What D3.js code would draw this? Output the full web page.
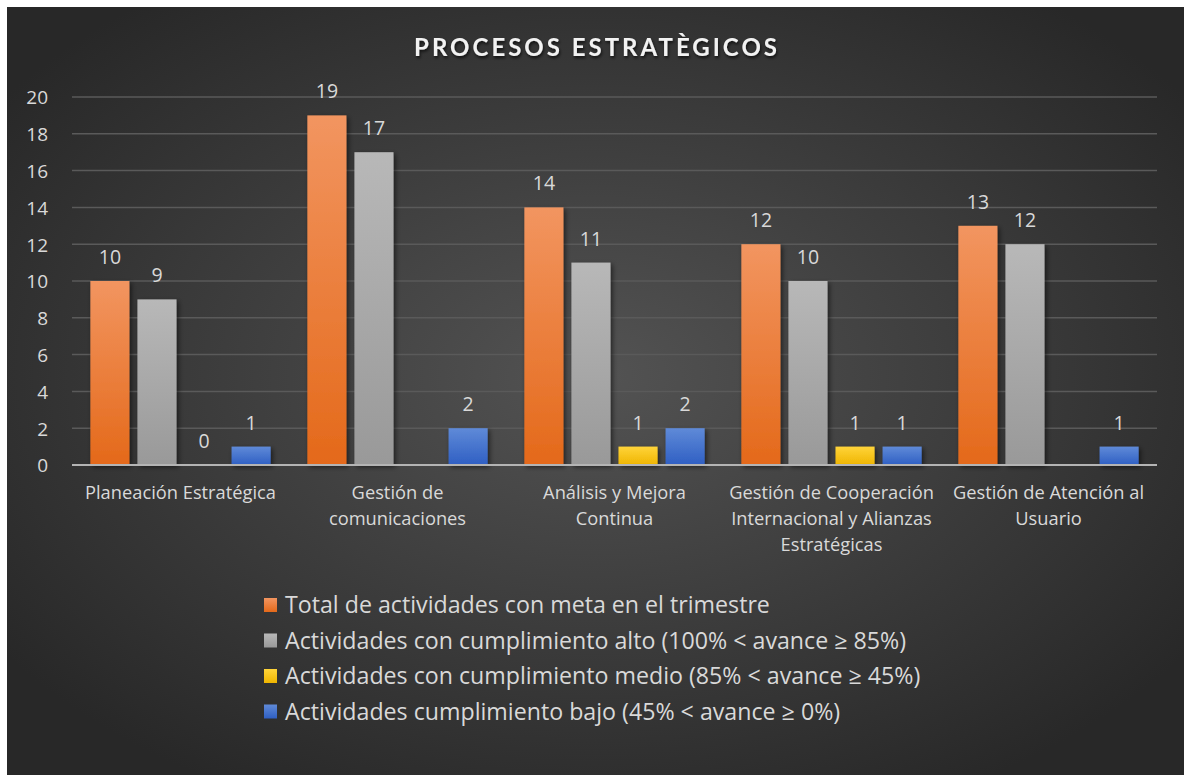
<!DOCTYPE html>
<html lang="es">
<head>
    <meta charset="UTF-8">
    <title>Procesos estratègicos</title>
    <script src="https://cdn.jsdelivr.net/npm/d3@7"></script>
    <style>
        body {
            margin: 0;
            background: #ffffff;
        }

        text {
            font-family: "Open Sans", Lato, sans-serif;
            fill: #d9d9d9;
        }

        .title {
            font-family: Lato, sans-serif;
            font-weight: bold;
            font-size: 24px;
            letter-spacing: 3px;
            fill: #f2f2f2;
        }

        .tick-label {
            font-size: 19px;
        }

        .value-label {
            font-size: 19.5px;
        }

        .cat-label {
            font-size: 18.3px;
        }

        .legend-label {
            font-size: 23.2px;
        }
    </style>
</head>
<body>
<div id="svgcontainer"></div>

<script>
    const categories = [
        ["Planeación Estratégica"],
        ["Gestión de", "comunicaciones"],
        ["Análisis y Mejora", "Continua"],
        ["Gestión de Cooperación", "Internacional y Alianzas", "Estratégicas"],
        ["Gestión de Atención al", "Usuario"]
    ];

    const seriesNames = [
        "Total de actividades con meta en el trimestre",
        "Actividades con cumplimiento alto (100% < avance ≥ 85%)",
        "Actividades con cumplimiento medio (85% < avance ≥ 45%)",
        "Actividades cumplimiento bajo (45% < avance ≥ 0%)"
    ];

    const totalValues = [10, 19, 14, 12, 13];
    const altoValues = [9, 17, 11, 10, 12];
    const medioValues = [0, null, 1, 1, null];
    const bajoValues = [1, 2, 2, 1, 1];

    const yTicks = [0, 2, 4, 6, 8, 10, 12, 14, 16, 18, 20];

    // top / bottom colour of each series gradient
    const seriesColors = [
        ["#f29560", "#e4691a"],
        ["#b8b8b8", "#999999"],
        ["#ffd43a", "#efb500"],
        ["#5f8ad8", "#2f5fc3"]
    ];

    const width = 1184;
    const height = 775;

    const PLOT_LEFT = 72;
    const PLOT_RIGHT = 1157;
    const PLOT_TOP = 97;
    const PLOT_BOTTOM = 465;

    const allSeries = [totalValues, altoValues, medioValues, bajoValues];

    const svg = d3.select("#svgcontainer")
        .append("svg")
        .attr("width", width)
        .attr("height", height);

    const defs = svg.append("defs");

    const bg = defs.append("radialGradient")
        .attr("id", "bg")
        .attr("cx", "50%")
        .attr("cy", "48%")
        .attr("r", "62%");
    bg.append("stop").attr("offset", "0%").attr("stop-color", "#535353");
    bg.append("stop").attr("offset", "100%").attr("stop-color", "#282828");

    seriesColors.forEach(function (c, i) {
        const g = defs.append("linearGradient")
            .attr("id", "s" + i)
            .attr("x1", 0).attr("y1", 0)
            .attr("x2", 0).attr("y2", 1);
        g.append("stop").attr("offset", "0%").attr("stop-color", c[0]);
        g.append("stop").attr("offset", "100%").attr("stop-color", c[1]);
    });

    const shadow = defs.append("filter")
        .attr("id", "shadow")
        .attr("x", "-20%").attr("y", "-20%")
        .attr("width", "150%").attr("height", "150%");
    shadow.append("feDropShadow")
        .attr("dx", 2).attr("dy", 2)
        .attr("stdDeviation", 2.5)
        .attr("flood-color", "#000000")
        .attr("flood-opacity", 0.55);

    const textShadow = defs.append("filter").attr("id", "textShadow");
    textShadow.append("feDropShadow")
        .attr("dx", 1).attr("dy", 2)
        .attr("stdDeviation", 1.5)
        .attr("flood-color", "#000000")
        .attr("flood-opacity", 0.7);

    svg.append("rect")
        .attr("x", 7)
        .attr("y", 7)
        .attr("width", width - 7)
        .attr("height", height - 7)
        .style("fill", "url(#bg)");

    svg.append("text")
        .attr("class", "title")
        .attr("x", 597)
        .attr("y", 56)
        .attr("text-anchor", "middle")
        .attr("filter", "url(#textShadow)")
        .text("PROCESOS ESTRATÈGICOS");

    const yScale = d3.scaleLinear()
        .domain([0, 20])
        .range([PLOT_BOTTOM, PLOT_TOP]);

    const x0 = d3.scaleBand()
        .domain(d3.range(categories.length))
        .range([PLOT_LEFT, PLOT_RIGHT]);

    const x1 = d3.scaleBand()
        .domain(d3.range(allSeries.length))
        .range([0, x0.bandwidth()])
        .paddingInner(0.17)
        .paddingOuter(0.39);

    // gridlines
    svg.append("g")
        .selectAll("line")
        .data(yTicks.filter(function (t) { return t > 0; }))
        .enter()
        .append("line")
        .attr("x1", PLOT_LEFT)
        .attr("x2", PLOT_RIGHT)
        .attr("y1", function (d) { return yScale(d); })
        .attr("y2", function (d) { return yScale(d); })
        .style("stroke", "#5a5a5a")
        .style("stroke-width", 1.5);

    // y axis labels
    const yAxis = d3.axisLeft(yScale)
        .tickValues(yTicks)
        .tickSize(0)
        .tickPadding(24);

    const yAxisG = svg.append("g")
        .attr("transform", "translate(" + PLOT_LEFT + ",0)")
        .call(yAxis);
    yAxisG.select(".domain").remove();
    yAxisG.selectAll("text")
        .attr("class", "tick-label")
        .attr("font-family", null)
        .attr("font-size", null)
        .attr("fill", null)
        .attr("dy", "0.36em");

    // bars
    const bars = [];
    allSeries.forEach(function (values, si) {
        values.forEach(function (v, ci) {
            if (v !== null) {
                bars.push({ series: si, cat: ci, value: v });
            }
        });
    });

    svg.append("g")
        .selectAll("rect")
        .data(bars.filter(function (d) { return d.value > 0; }))
        .enter()
        .append("rect")
        .attr("x", function (d) { return x0(d.cat) + x1(d.series); })
        .attr("y", function (d) { return yScale(d.value); })
        .attr("width", x1.bandwidth())
        .attr("height", function (d) { return yScale(0) - yScale(d.value); })
        .attr("filter", "url(#shadow)")
        .style("fill", function (d) { return "url(#s" + d.series + ")"; });

    // baseline
    svg.append("line")
        .attr("x1", PLOT_LEFT)
        .attr("x2", PLOT_RIGHT)
        .attr("y1", yScale(0))
        .attr("y2", yScale(0))
        .style("stroke", "#b4b4b4")
        .style("stroke-width", 2);

    // value labels
    svg.append("g")
        .selectAll("text")
        .data(bars)
        .enter()
        .append("text")
        .attr("class", "value-label")
        .attr("text-anchor", "middle")
        .attr("x", function (d) { return x0(d.cat) + x1(d.series) + x1.bandwidth() / 2; })
        .attr("y", function (d) { return yScale(d.value) - 17; })
        .text(function (d) { return d.value; });

    // category labels
    const catG = svg.append("g")
        .selectAll("text")
        .data(categories)
        .enter()
        .append("text")
        .attr("class", "cat-label")
        .attr("text-anchor", "middle")
        .attr("x", function (d, i) { return x0(i) + x0.bandwidth() / 2; })
        .attr("y", 499);

    catG.selectAll("tspan")
        .data(function (d) { return d; })
        .enter()
        .append("tspan")
        .attr("x", function () { return d3.select(this.parentNode).attr("x"); })
        .attr("dy", function (d, i) { return i === 0 ? 0 : 26; })
        .text(function (d) { return d; });

    // legend
    const legend = svg.append("g")
        .selectAll("g")
        .data(seriesNames)
        .enter()
        .append("g")
        .attr("transform", function (d, i) {
            return "translate(264," + (605 + i * 35.5) + ")";
        });

    legend.append("rect")
        .attr("x", 0)
        .attr("y", -7)
        .attr("width", 13)
        .attr("height", 14)
        .style("fill", function (d, i) { return "url(#s" + i + ")"; });

    legend.append("text")
        .attr("class", "legend-label")
        .attr("x", 21)
        .attr("dy", "0.35em")
        .text(function (d) { return d; });
</script>

</body>
</html>
